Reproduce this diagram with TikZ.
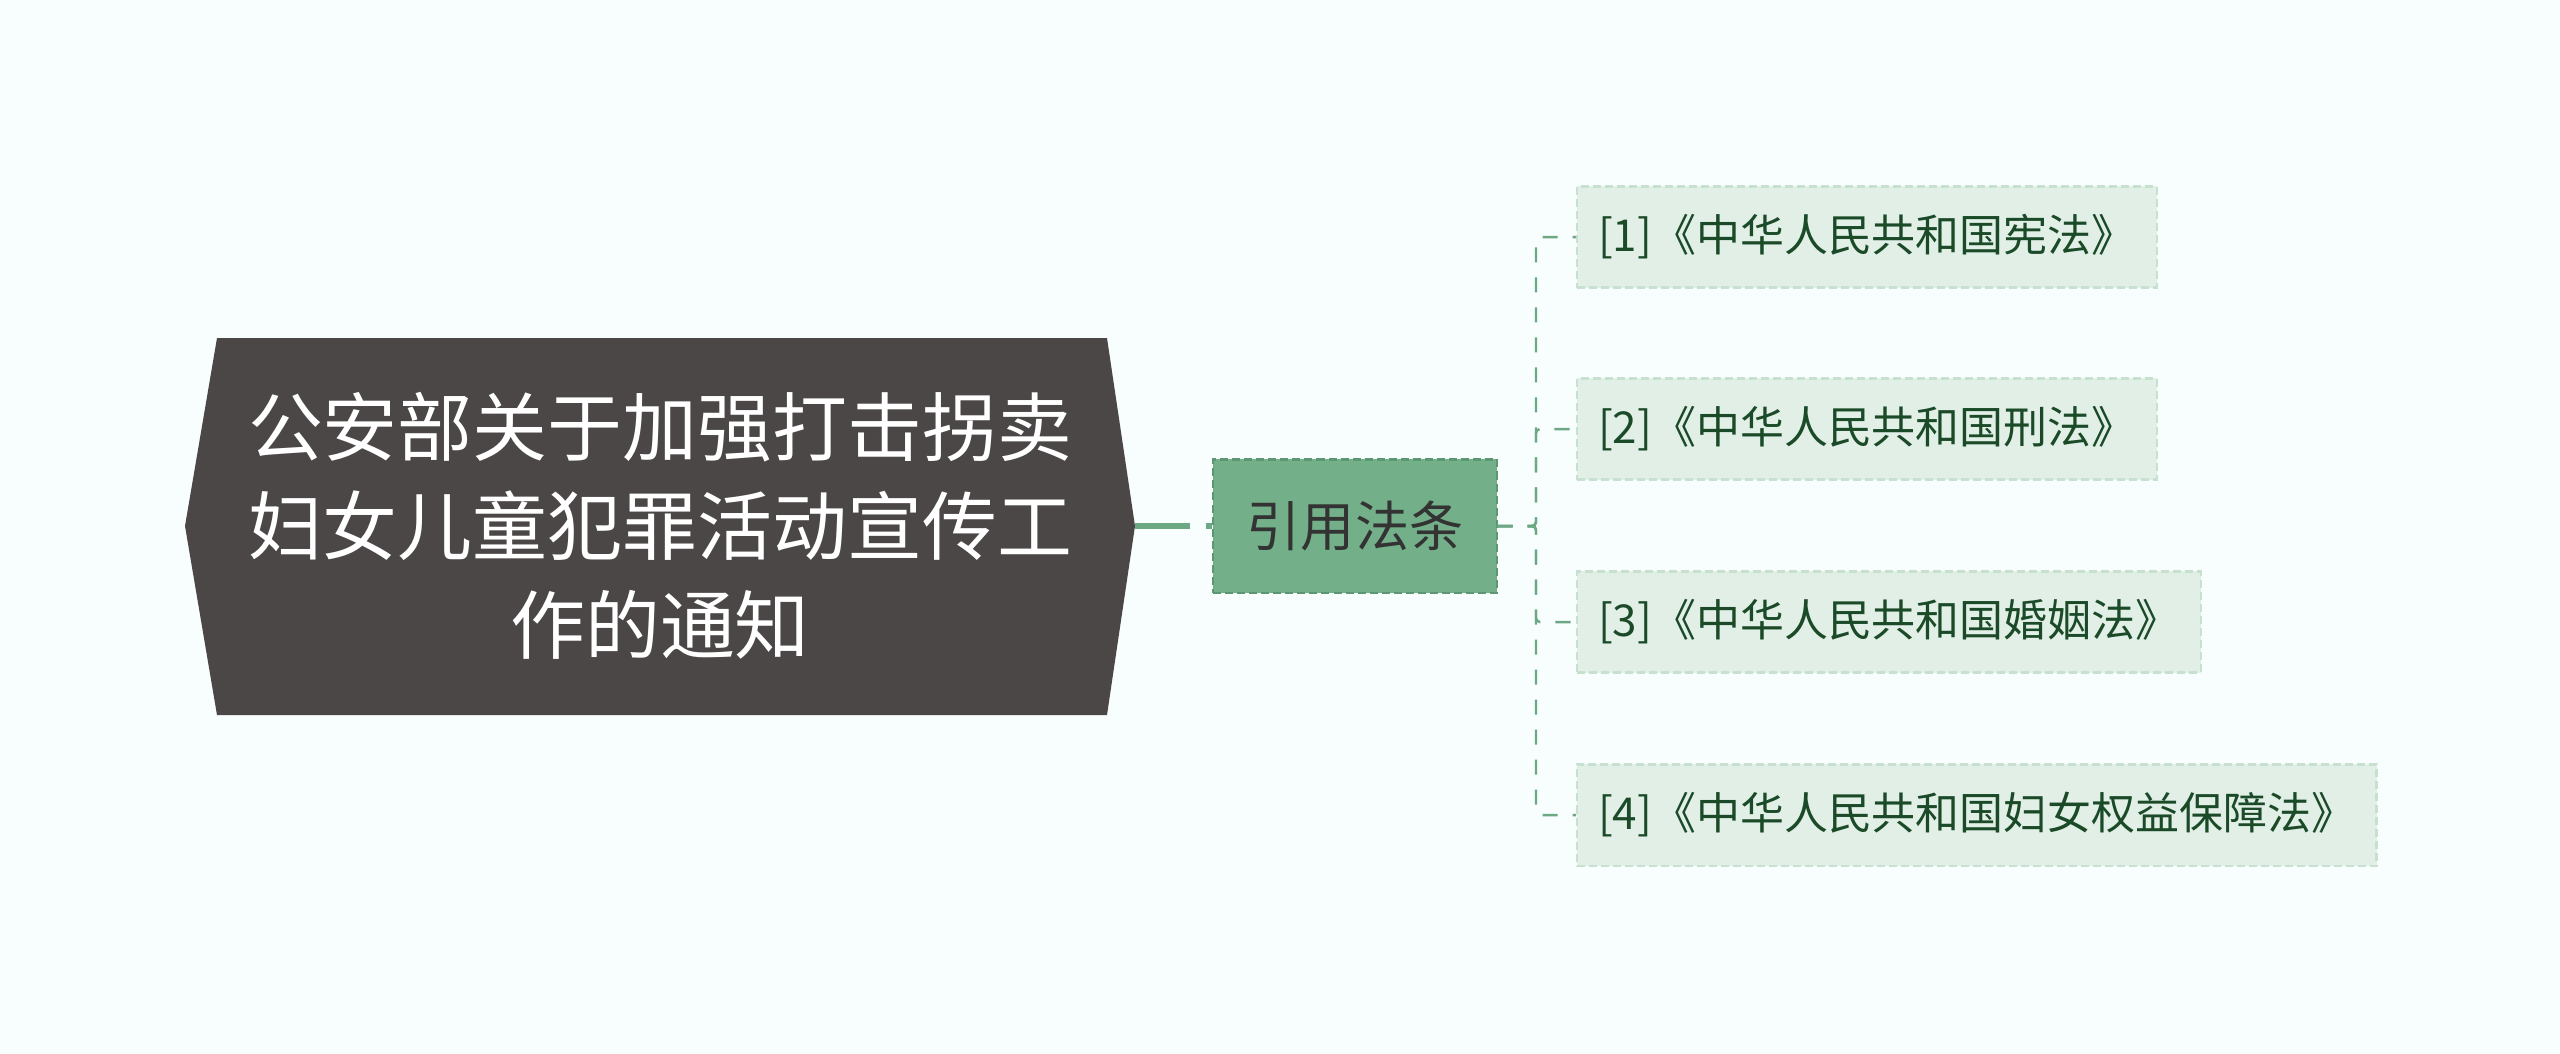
\documentclass[tikz,border=0pt]{standalone}
\usepackage{fontspec}
\setmainfont{Noto Sans CJK SC}
\usetikzlibrary{positioning, calc}
\definecolor{paperbg}{RGB}{248,253,253}
\definecolor{rootgray}{RGB}{76,71,71}
\definecolor{citegreen}{RGB}{115,176,138}
\definecolor{citeedge}{RGB}{92,150,114}
\definecolor{leaffill}{RGB}{226,239,230}
\definecolor{leafedge}{RGB}{200,224,208}
\definecolor{leaftext}{RGB}{26,74,40}
\definecolor{linkgreen}{RGB}{108,168,132}
\tikzset{
    rootlabel/.style={text=white, align=center, inner sep=0pt, font=\fontsize{21.3pt}{28.1pt}\selectfont},
    citebox/.style={draw=citeedge, fill=citegreen, line width=0.6pt, dash pattern=on 0.8mm off 0.4mm,
        minimum width=2.83cm, minimum height=1.33cm, inner sep=0pt, text=black!80, font=\fontsize{15.4pt}{18pt}\selectfont},
    leafbox/.style={draw=leafedge, fill=leaffill, line width=0.6pt, dash pattern=on 0.8mm off 0.4mm, anchor=west,
        minimum height=1.01cm, inner xsep=0.21cm, text=leaftext, font=\fontsize{12.5pt}{15pt}\selectfont},
    link/.style={draw=linkgreen, line width=1.6pt, dash pattern=on 5.5mm off 1.6mm},
    branch/.style={draw=linkgreen, line width=0.7pt, dash pattern=on 1.5mm off 1.5mm, rounded corners=0.04cm}
}

\begin{document}
\begin{tikzpicture}[x=0.01cm, y=-0.01cm]
    % page
    \fill[paperbg] (0,0) rectangle (2560,1053);
    % root
    \fill[rootgray] (217,338) -- (1107,338) -- (1135,526) -- (1107,715) -- (217,715) -- (185,526) -- cycle;
    \coordinate (roottip) at (1135,526);
    \node[rootlabel] (root) at (660,526) {公安部关于加强打击拐卖\\妇女儿童犯罪活动宣传工\\作的通知};
    % second level
    \node[citebox] (cite) at (1355,526) {引用法条};
    \coordinate (trunk) at (1536,526);
    % leaves
    \node[leafbox] (law1) at (1576,237) {[1]《中华人民共和国宪法》};
    \node[leafbox] (law2) at (1576,429) {[2]《中华人民共和国刑法》};
    \node[leafbox] (law3) at (1576,622) {[3]《中华人民共和国婚姻法》};
    \node[leafbox] (law4) at (1576,815) {[4]《中华人民共和国妇女权益保障法》};
    % connectors
    \draw[link] (roottip) -- (cite.west);
    \foreach \n in {1,...,4}
        \draw[branch] (cite.east) -- (trunk) |- (law\n.west);
\end{tikzpicture}
\end{document}
